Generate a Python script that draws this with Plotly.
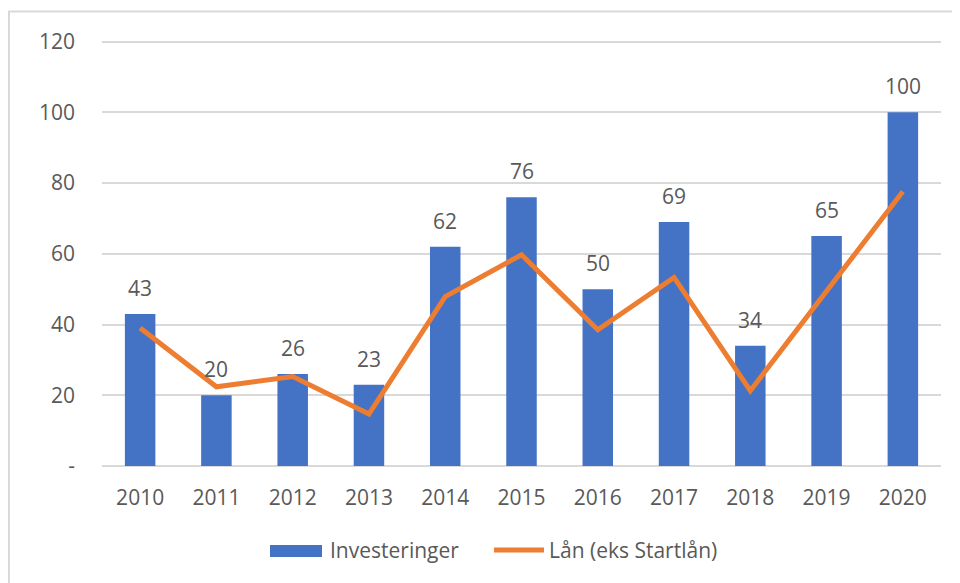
import plotly.graph_objects as go

years = ["2010", "2011", "2012", "2013", "2014", "2015", "2016", "2017", "2018", "2019", "2020"]
investeringer = [43, 20, 26, 23, 62, 76, 50, 69, 34, 65, 100]
laan = [39, 22.4, 25.3, 14.7, 47.9, 59.7, 38.5, 53.3, 21.3, 49.4, 77.6]
ytick_vals = [0, 20, 40, 60, 80, 100, 120]
ytick_text = ["-", "20", "40", "60", "80", "100", "120"]

FONT = "Open Sans"
TXT = "#595959"
BLUE = "#4472C4"
ORANGE = "#ED7D31"
GRID = "#D9D9D9"
FS = 21

# page has an 8px body margin; figure sized to fit the window
W, H = 952, 575
OFF = 8
PL, PR = 102 - OFF, 941 - OFF          # plot area left/right (figure px)
PB = 466 - OFF                          # y=0 baseline (figure px)
YMAX = 121
PH = 424 * YMAX / 120                   # plot height
PT = PB - PH


def px(X):
    return (X - OFF - PL) / (PR - PL)


def py(Y):
    return (PB - (Y - OFF)) / PH


fig = go.Figure()
fig.add_trace(go.Bar(x=years, y=investeringer, name="Investeringer",
                     marker=dict(color=BLUE, line=dict(width=0)), showlegend=False))
fig.add_trace(go.Scatter(x=years, y=laan, name="Lån (eks Startlån)", mode="lines",
                         line=dict(color=ORANGE, width=5), showlegend=False))

for i, v in enumerate(investeringer):
    fig.add_annotation(x=i, y=v, text=str(v), showarrow=False, yshift=26,
                       font=dict(family=FONT, size=FS, color=TXT))

# outer chart border
fig.add_shape(type="rect", xref="paper", yref="paper", x0=px(9), x1=px(1100), y0=py(700), y1=py(12),
              line=dict(color=GRID, width=2), fillcolor="rgba(0,0,0,0)", layer="below")

# custom legend
fig.add_shape(type="rect", xref="paper", yref="paper",
              x0=px(270), x1=px(322), y0=py(557), y1=py(545),
              fillcolor=BLUE, line=dict(width=0))
fig.add_annotation(xref="paper", yref="paper", x=px(328), y=py(550),
                   xanchor="left", yanchor="middle", showarrow=False, text="Investeringer",
                   font=dict(family=FONT, size=FS, color=TXT))
fig.add_shape(type="line", xref="paper", yref="paper",
              x0=px(494), x1=px(544), y0=py(550), y1=py(550),
              line=dict(color=ORANGE, width=5))
fig.add_annotation(xref="paper", yref="paper", x=px(547), y=py(550),
                   xanchor="left", yanchor="middle", showarrow=False, text="Lån (eks Startlån)",
                   font=dict(family=FONT, size=FS, color=TXT))

fig.update_layout(
    width=W, height=H,
    margin=dict(l=PL, r=W - PR, t=PT, b=H - PB, autoexpand=False),
    paper_bgcolor="white", plot_bgcolor="white",
    bargap=0.6,
    font=dict(family=FONT, size=FS, color=TXT),
    showlegend=False,
)
fig.update_xaxes(type="category", range=[-0.5, 10.5], showgrid=False, showline=False, ticks="",
                 automargin=False, ticklabelstandoff=17,
                 tickfont=dict(family=FONT, size=FS, color=TXT))
fig.update_yaxes(range=[0, YMAX], tickvals=ytick_vals, ticktext=ytick_text,
                 showgrid=True, gridcolor=GRID, gridwidth=2,
                 zeroline=True, zerolinecolor=GRID, zerolinewidth=2,
                 showline=False, ticks="", ticklabelstandoff=26, automargin=False,
                 tickfont=dict(family=FONT, size=FS, color=TXT))

fig.write_html("out.html")
